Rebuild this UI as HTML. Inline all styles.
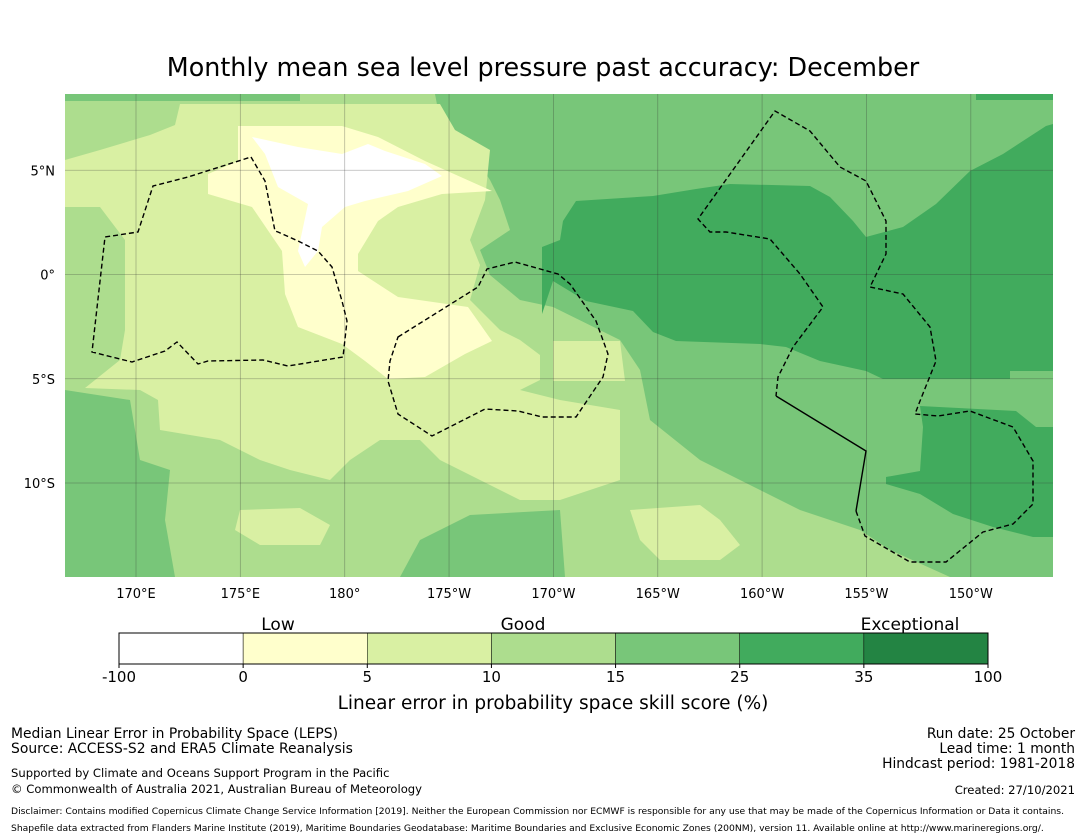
<!DOCTYPE html>
<html><head><meta charset="utf-8"><style>
html,body{margin:0;padding:0;background:#fff;}
svg{display:block;font-family:"DejaVu Sans","Liberation Sans",sans-serif;}
</style></head><body>
<svg id="fig" width="1085" height="839" viewBox="0 0 1085 839" xmlns="http://www.w3.org/2000/svg">
<text x="543" y="76" font-size="25.4" text-anchor="middle" fill="#000">Monthly mean sea level pressure past accuracy: December</text>
<defs><clipPath id="mapclip"><rect x="65" y="94" width="988" height="483"/></clipPath></defs>
<g clip-path="url(#mapclip)">
<rect x="65" y="94" width="988" height="483" fill="#addd8e"/>
<polygon fill="#78c679" points="435,94 1053,94 1053,577 950,577 890,550 860,530 800,510 780,500 750,485 700,460 650,420 640,370 620,340 553,307 520,300 490,275 480,250 510,230 500,200 490,180 470,150 440,120"/>
<polygon fill="#78c679" points="65,390 130,400 140,460 170,470 165,520 175,577 65,577"/>
<polygon fill="#78c679" points="65,94 300,94 300,101 65,101"/>
<polygon fill="#78c679" points="400,577 420,540 470,515 560,510 565,577"/>
<polygon fill="#41ab5d" points="542,247 560,240 563,221 576,201 653,196 696,189 730,184 810,186 830,197 853,221 866,237 903,227 936,204 970,171 1003,154 1046,126 1053,124 1053,371 1010,371 1010,379 883,379 866,371 820,361 786,347 760,344 676,341 653,332 633,311 586,301 553,281 542,314"/>
<polygon fill="#41ab5d" points="920,406 1016,411 1036,427 1053,427 1053,537 1033,537 993,527 953,514 920,494 886,484 886,477 920,471 923,427"/>
<polygon fill="#41ab5d" points="976,94 1053,94 1053,100 976,100"/>
<polygon fill="#d9f0a3" points="65,160 100,150 150,135 175,125 180,104 440,104 455,130 490,150 485,200 470,240 480,265 470,300 500,330 520,340 540,355 540,380 520,390 560,400 620,410 620,480 560,500 520,500 480,480 440,460 420,440 380,440 350,460 330,480 290,470 260,460 220,440 160,430 158,400 140,390 85,388 120,360 125,330 125,240 100,207 65,207"/>
<polygon fill="#d9f0a3" points="553,341 620,341 625,381 553,381"/>
<polygon fill="#d9f0a3" points="630,510 700,505 720,520 740,545 720,560 660,560 640,540"/>
<polygon fill="#d9f0a3" points="240,510 300,508 330,525 320,545 260,545 235,530"/>
<polygon fill="#ffffcc" points="238,126 342,126 378,137 425,161 492,191 442,194 398,207 378,221 358,254 358,271 398,297 468,307 492,341 465,354 425,377 388,379 365,361 342,344 298,327 285,294 282,251 252,207 208,194 208,174 238,161"/>
<polygon fill="#ffffff" points="252,137 298,147 342,154 368,144 385,151 425,164 442,176 408,191 365,201 345,207 322,227 318,251 305,267 298,251 308,204 278,187 265,154"/>
<g id="grid" stroke="#333" stroke-opacity="0.35" stroke-width="0.8"></g>
<polygon fill="none" stroke="#000" stroke-width="1.4" stroke-dasharray="5,3" points="251,157 265,181 275,231 278,232 298,241 318,251 332,267 342,301 347,321 343,357 288,366 263,360 208,361 198,364 177,342 165,351 132,362 92,352 105,237 138,232 153,186 188,177"/>
<polygon fill="none" stroke="#000" stroke-width="1.4" stroke-dasharray="5,3" points="398,337 478,287 487,269 515,262 558,274 570,284 596,321 608,354 603,377 576,417 542,417 518,411 485,409 432,436 398,414 388,381 390,361"/>
<polyline fill="none" stroke="#000" stroke-width="1.4" stroke-dasharray="5,3" points="856,511 865,536 910,562 946,562 983,532 1013,524 1033,504 1033,461 1013,427 970,411 938,416 915,414 920,401 936,361 930,327 903,294 870,287 886,254 886,221 866,181 840,167 810,131 775,111 698,219 710,232 726,232 770,239 800,274 823,307 793,347 778,377 776,396"/>
<polyline fill="none" stroke="#000" stroke-width="1.4" points="776,396 866,451 856,511"/>
</g>
<g id="xticks" font-size="13" text-anchor="middle"></g>
<g id="yticks" font-size="13" text-anchor="end"></g>
<text x="278" y="630" font-size="17" text-anchor="middle">Low</text>
<text x="523" y="630" font-size="17" text-anchor="middle">Good</text>
<text x="910" y="630" font-size="17" text-anchor="middle">Exceptional</text>
<g id="colorbar"></g>
<text x="553" y="709" font-size="18.5" text-anchor="middle">Linear error in probability space skill score (%)</text>
<g font-size="13.9">
<text x="11" y="738">Median Linear Error in Probability Space (LEPS)</text>
<text x="11" y="753">Source: ACCESS-S2 and ERA5 Climate Reanalysis</text>
</g>
<g font-size="11.6">
<text x="11" y="777">Supported by Climate and Oceans Support Program in the Pacific</text>
<text x="11" y="793">© Commonwealth of Australia 2021, Australian Bureau of Meteorology</text>
</g>
<g font-size="13.8" text-anchor="end">
<text x="1075" y="738">Run date: 25 October</text>
<text x="1075" y="753">Lead time: 1 month</text>
<text x="1075" y="768">Hindcast period: 1981-2018</text>
<text x="1075" y="794" font-size="11.6">Created: 27/10/2021</text>
</g>
<text x="11" y="814" font-size="9.2">Disclaimer: Contains modified Copernicus Climate Change Service Information [2019]. Neither the European Commission nor ECMWF is responsible for any use that may be made of the Copernicus Information or Data it contains.</text>
<text x="11" y="831" font-size="9.2">Shapefile data extracted from Flanders Marine Institute (2019), Maritime Boundaries Geodatabase: Maritime Boundaries and Exclusive Economic Zones (200NM), version 11. Available online at http://www.marineregions.org/.</text>
</svg>
<script>
const lonTicks = [170, 175, 180, 185, 190, 195, 200, 205, 210];
const lonLabels = ["170°E","175°E","180°","175°W","170°W","165°W","160°W","155°W","150°W"];
const latTicks = [5, 0, -5, -10];
const latLabels = ["5°N","0°","5°S","10°S"];
const cbColors = ["#ffffff","#ffffcc","#d9f0a3","#addd8e","#78c679","#41ab5d","#238443"];
const cbTickLabels = ["-100","0","5","10","15","25","35","100"];

const NS = "http://www.w3.org/2000/svg";
function xOf(lon){ return 136 + (lon - 170) * 20.87; }
function yOf(lat){ return 274.5 - lat * 20.85; }
function mk(tag, attrs, parent){ const e=document.createElementNS(NS,tag); for(const k in attrs) e.setAttribute(k,attrs[k]); parent.appendChild(e); return e; }
const grid=document.getElementById('grid'), xt=document.getElementById('xticks'), yt=document.getElementById('yticks'), cb=document.getElementById('colorbar');
lonTicks.forEach((lon,i)=>{
  const x=xOf(lon);
  const l=mk('line',{x1:x,x2:x,y1:94,y2:577},grid);
  
  
  const t=mk('text',{x:x,y:598},xt); t.textContent=lonLabels[i];
  
  
});
latTicks.forEach((lat,i)=>{
  const y=yOf(lat);
  const l=mk('line',{x1:65,x2:1053,y1:y,y2:y},grid);
  
  
  const t=mk('text',{x:55,y:y+5},yt); t.textContent=latLabels[i];
  
  
});
const cbX0=119, cbX1=988, cbY=633, cbH=31, segW=(cbX1-cbX0)/cbColors.length;
cbColors.forEach((c,i)=>{
  const r=mk('rect',{x:cbX0+i*segW,y:cbY,width:segW,height:cbH,fill:c,stroke:'#000','stroke-width':0.5},cb);
  
  
});
const f=mk('rect',{x:cbX0,y:cbY,width:cbX1-cbX0,height:cbH,fill:'none',stroke:'#000','stroke-width':1},cb);


cbTickLabels.forEach((lab,i)=>{
  const x=cbX0+i*segW;
  const tk=mk('line',{x1:x,x2:x,y1:cbY+cbH,y2:cbY+cbH+4,stroke:'#000'},cb);
  
  
  const t=mk('text',{x:x,y:682,'font-size':15,'text-anchor':'middle'},cb); t.textContent=lab;
  
  
});
</script>
</body></html>
